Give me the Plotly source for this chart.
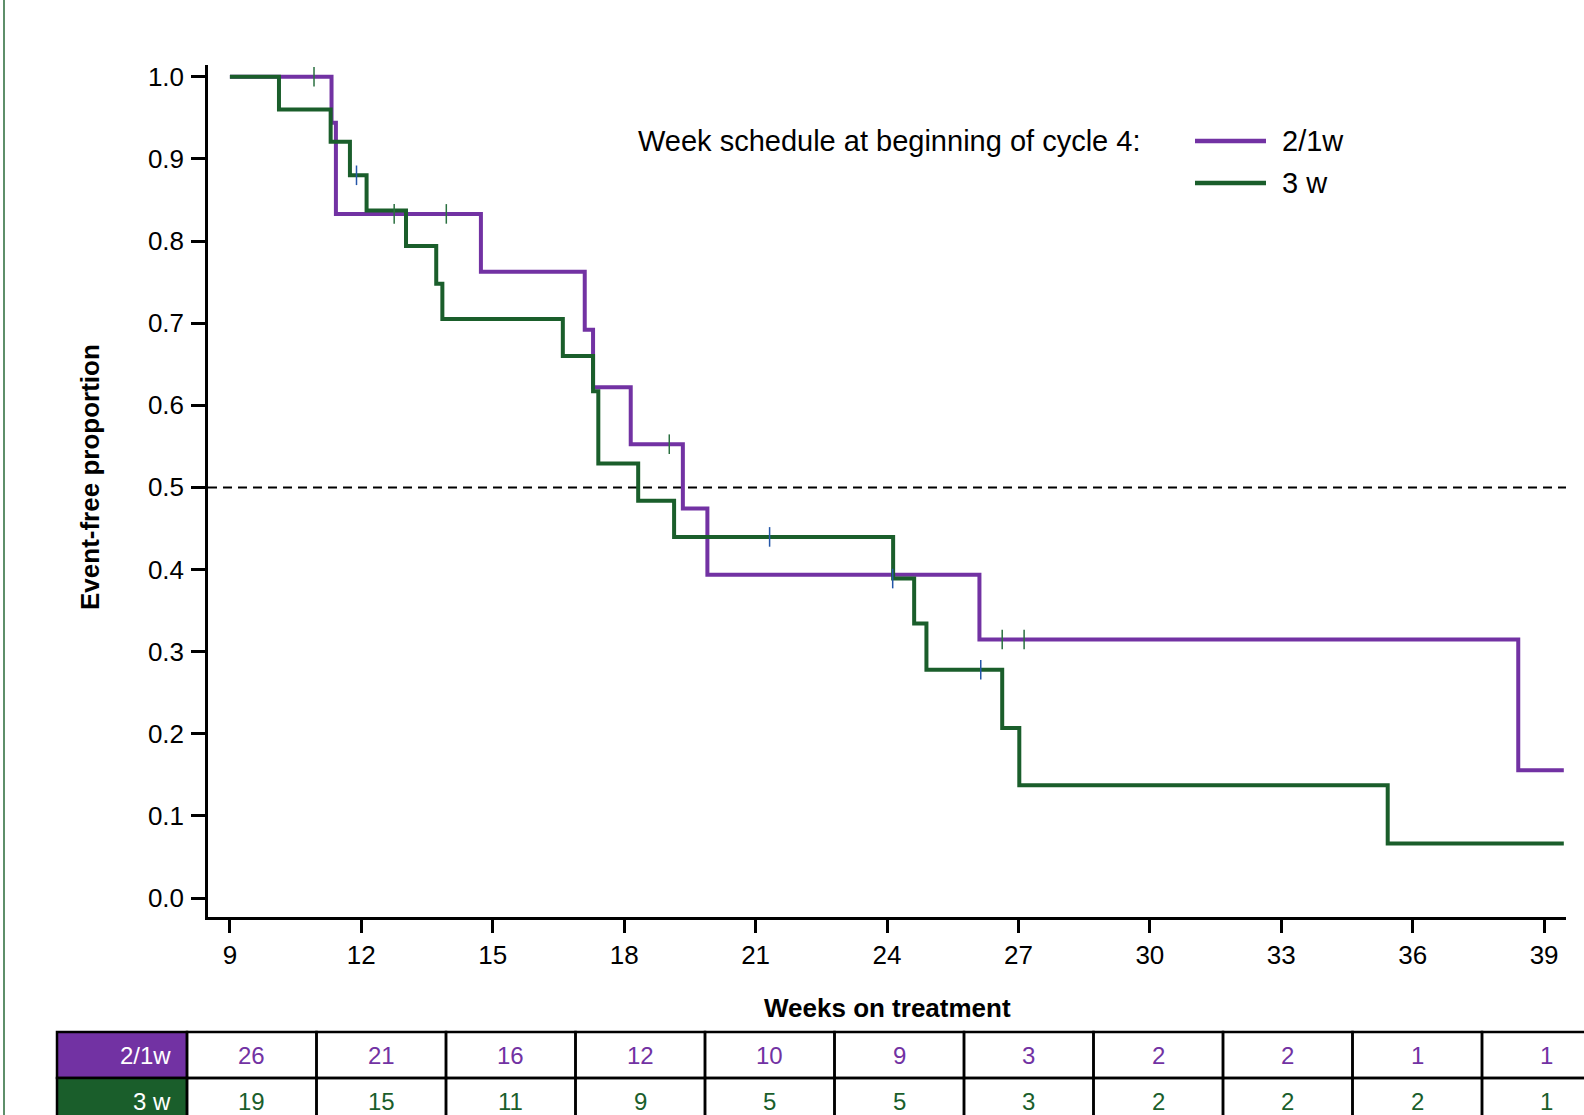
import plotly.graph_objects as go

# ---------------- data ----------------
purple_times = [9, 11.32, 11.42, 14.73, 17.10, 17.29, 18.15, 19.34, 19.90, 26.11, 38.41, 39.45]
purple_surv = [1.0, 0.944, 0.833, 0.7625, 0.692, 0.622, 0.5526, 0.4743, 0.3936, 0.3147, 0.1555, 0.1555]
purple_cens_t = [10.92, 12.75, 13.94, 19.03, 26.63, 27.13]
purple_cens_s = [1.0, 0.833, 0.833, 0.5526, 0.3147, 0.3147]

green_times = [9, 10.12, 11.30, 11.74, 12.12, 13.02, 13.71, 13.85, 16.60, 17.29, 17.41, 18.32,
               19.14, 24.14, 24.62, 24.90, 26.63, 27.02, 35.43, 39.45]
green_surv = [1.0, 0.960, 0.921, 0.880, 0.837, 0.794, 0.748, 0.705, 0.660, 0.617, 0.529, 0.4836,
              0.4397, 0.389, 0.3342, 0.278, 0.207, 0.1373, 0.0663, 0.0663]
green_cens_t = [11.89, 21.32, 24.13, 26.14]
green_cens_s = [0.880, 0.4397, 0.389, 0.278]

x_ticks = [9, 12, 15, 18, 21, 24, 27, 30, 33, 36, 39]
y_ticks = [0.0, 0.1, 0.2, 0.3, 0.4, 0.5, 0.6, 0.7, 0.8, 0.9, 1.0]

group_labels = ["2/1w", "3 w"]
risk_purple = [26, 21, 16, 12, 10, 9, 3, 2, 2, 1, 1]
risk_green = [19, 15, 11, 9, 5, 5, 3, 2, 2, 2, 1]

legend_title = "Week schedule at beginning of cycle 4:"
x_title = "Weeks on treatment"
y_title = "Event-free proportion"

# ---------------- styles ----------------
PURPLE = "#7232a3"
GREEN = "#1a5e2b"
CENS_PURPLE = "#2a7040"
CENS_GREEN = "#2456a8"
FONT = "Liberation Sans, Arial, sans-serif"

W, H = 1584, 1115
L, R, T, B = 208, 18, 65, 198
PW, PH = W - L - R, H - T - B


def px_x(p):
    return (p - L) / PW


def px_y(p):
    return (H - B - p) / PH


fig = go.Figure()

fig.add_trace(go.Scatter(x=purple_times, y=purple_surv, mode="lines", line_shape="hv",
                         line=dict(color=PURPLE, width=4), showlegend=False))
fig.add_trace(go.Scatter(x=green_times, y=green_surv, mode="lines", line_shape="hv",
                         line=dict(color=GREEN, width=4), showlegend=False))
fig.add_trace(go.Scatter(x=purple_cens_t, y=purple_cens_s, mode="markers",
                         marker=dict(symbol="line-ns", size=14,
                                     line=dict(color=CENS_PURPLE, width=1.5)),
                         showlegend=False))
fig.add_trace(go.Scatter(x=green_cens_t, y=green_cens_s, mode="markers",
                         marker=dict(symbol="line-ns", size=14,
                                     line=dict(color=CENS_GREEN, width=1.5)),
                         showlegend=False))

shapes = []
annotations = []

# median reference line
shapes.append(dict(type="line", xref="paper", yref="y", x0=0, x1=1, y0=0.5, y1=0.5,
                   line=dict(color="black", width=2, dash="9px,6px"), layer="below"))

# thin green line on the left edge
shapes.append(dict(type="line", xref="paper", yref="paper", x0=px_x(4), x1=px_x(4),
                   y0=px_y(H + 5), y1=px_y(-5), line=dict(color="#5e8f6a", width=2)))

# custom legend
annotations.append(dict(text=legend_title, xref="paper", yref="paper", x=px_x(636), y=px_y(141),
                        xanchor="left", yanchor="middle", showarrow=False,
                        font=dict(family=FONT, size=29, color="black")))
for i, (lab, col) in enumerate(zip(group_labels, [PURPLE, GREEN])):
    yy = 141 + i * 42
    shapes.append(dict(type="line", xref="paper", yref="paper", x0=px_x(1195), x1=px_x(1266),
                       y0=px_y(yy), y1=px_y(yy), line=dict(color=col, width=4.5)))
    annotations.append(dict(text=lab, xref="paper", yref="paper", x=px_x(1280), y=px_y(yy),
                            xanchor="left", yanchor="middle", showarrow=False,
                            font=dict(family=FONT, size=29, color="black")))

# axis titles
annotations.append(dict(text="<b>" + x_title + "</b>", xref="paper", yref="paper",
                        x=px_x(887), y=px_y(1008), xanchor="center", yanchor="middle",
                        showarrow=False, font=dict(family=FONT, size=26, color="black")))
annotations.append(dict(text="<b>" + y_title + "</b>", xref="paper", yref="paper",
                        x=px_x(90), y=px_y(477), xanchor="center", yanchor="middle",
                        textangle=-90, showarrow=False,
                        font=dict(family=FONT, size=26, color="black")))

# number-at-risk table
tab_left, head_right, col_w = 57, 187, 129.5
row_top, row_h = 1032, 46
rows = [risk_purple, risk_green]
row_cols = [PURPLE, GREEN]
for r, (vals, col) in enumerate(zip(rows, row_cols)):
    y0 = row_top + r * row_h
    y1 = y0 + row_h
    shapes.append(dict(type="rect", xref="paper", yref="paper",
                       x0=px_x(tab_left), x1=px_x(head_right), y0=px_y(y1), y1=px_y(y0),
                       fillcolor=col, line=dict(color="black", width=2.5)))
    annotations.append(dict(text=group_labels[r], xref="paper", yref="paper",
                            x=px_x(head_right - 14), y=px_y(y0 + row_h / 2),
                            xanchor="right", yanchor="middle", showarrow=False,
                            font=dict(family=FONT, size=24, color="white")))
    for c, v in enumerate(vals):
        cx0 = head_right + c * col_w
        cx1 = cx0 + col_w
        shapes.append(dict(type="rect", xref="paper", yref="paper",
                           x0=px_x(cx0), x1=px_x(cx1), y0=px_y(y1), y1=px_y(y0),
                           fillcolor="rgba(0,0,0,0)", line=dict(color="black", width=2.5)))
        annotations.append(dict(text=str(v), xref="paper", yref="paper",
                                x=px_x((cx0 + cx1) / 2), y=px_y(y0 + row_h / 2),
                                xanchor="center", yanchor="middle", showarrow=False,
                                font=dict(family=FONT, size=24, color=col)))

fig.update_layout(
    width=W, height=H,
    margin=dict(l=L, r=R, t=T, b=B),
    paper_bgcolor="white", plot_bgcolor="white",
    font=dict(family=FONT, size=26, color="black"),
    shapes=shapes, annotations=annotations,
    showlegend=False,
)
fig.update_xaxes(range=[8.5, 39.5], tickvals=x_ticks, ticks="outside", ticklen=13, tickwidth=2.5,
                 tickcolor="black", showline=True, linecolor="black", linewidth=2.5,
                 showgrid=False, zeroline=False, ticklabelstandoff=0,
                 tickfont=dict(family=FONT, size=26, color="black"))
fig.update_yaxes(range=[-0.0231, 1.0143], tickvals=y_ticks, tickformat=".1f", ticks="outside",
                 ticklen=14, tickwidth=2.5, tickcolor="black", showline=True, linecolor="black",
                 linewidth=2.5, showgrid=False, zeroline=False, ticklabelstandoff=2,
                 tickfont=dict(family=FONT, size=26, color="black"))

# remove the default page margin so the figure sits at the top-left corner of the window
fig.write_html("out.html", config={"displayModeBar": False},
               post_script="document.body.style.margin='0';")
